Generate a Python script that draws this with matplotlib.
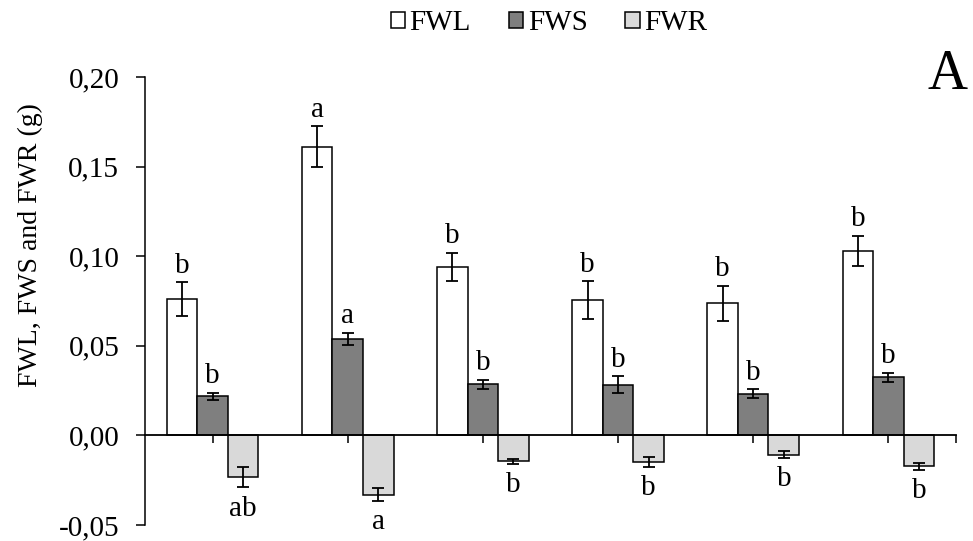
import numpy as np
import matplotlib
matplotlib.use("Agg")
import matplotlib.pyplot as plt
from matplotlib.ticker import FuncFormatter

plt.rcParams["font.family"] = ["Liberation Serif", "DejaVu Serif"]

series = ["FWL", "FWS", "FWR"]
fwl = [0.076, 0.161, 0.094, 0.0755, 0.0736, 0.103]
fwl_err = [0.0094, 0.0115, 0.0080, 0.0105, 0.0098, 0.0084]
fws = [0.0218, 0.054, 0.0285, 0.0283, 0.0233, 0.0324]
fws_err = [0.0020, 0.0034, 0.0025, 0.0047, 0.0024, 0.0026]
fwr = [-0.0233, -0.033, -0.0145, -0.0149, -0.0108, -0.0173]
fwr_err = [0.0057, 0.0037, 0.0015, 0.0028, 0.0019, 0.0019]
fwl_letters = ["b", "a", "b", "b", "b", "b"]
fws_letters = ["b", "a", "b", "b", "b", "b"]
fwr_letters = ["ab", "a", "b", "b", "b", "b"]

values = [fwl, fws, fwr]
errors = [fwl_err, fws_err, fwr_err]
letters = [fwl_letters, fws_letters, fwr_letters]
colors = ["white", "#7f7f7f", "#d9d9d9"]
fs = 21

fig = plt.figure(figsize=(9.73, 5.41), dpi=100)
ax = fig.add_axes([0.149, 0.0296, 0.8335, 0.8281])

x = np.arange(len(fwl))
w = 0.226
for i in range(3):
    pos = x + (i - 1) * w
    ax.bar(pos, values[i], w, color=colors[i], edgecolor="black",
           linewidth=1.1, label=series[i], zorder=2)
    ax.errorbar(pos, values[i], yerr=errors[i], fmt="none", ecolor="black",
                elinewidth=1.3, capsize=4.6, capthick=1.3, zorder=3)
    for xp, v, e, t in zip(pos, values[i], errors[i], letters[i]):
        if v >= 0:
            ax.annotate(t, (xp, v + e), xytext=(0, 7), textcoords="offset points",
                        ha="center", va="baseline", fontsize=fs)
        else:
            ax.annotate(t, (xp, v - e), xytext=(0, -6), textcoords="offset points",
                        ha="center", va="top", fontsize=fs)

ax.set_xlim(-0.5, len(fwl) - 0.5)
ax.set_ylim(-0.05, 0.20)
ax.set_yticks(np.arange(-0.05, 0.201, 0.05))
ax.yaxis.set_major_formatter(FuncFormatter(lambda v, p: f"{v:.2f}".replace(".", ",")))
ax.tick_params(axis="y", labelsize=fs, direction="out", length=6.5, width=1.1, pad=12)

ax.spines["top"].set_visible(False)
ax.spines["right"].set_visible(False)
ax.spines["bottom"].set_position(("data", 0))
ax.spines["bottom"].set_linewidth(1.3)
ax.spines["left"].set_linewidth(1.1)
ax.set_xticks(list(x) + [len(fwl) - 0.5])
ax.set_xticklabels([])
ax.tick_params(axis="x", direction="out", length=6, width=1.1)

ax.set_ylabel("FWL, FWS and FWR (g)", fontsize=20)
ax.yaxis.set_label_coords(-0.1258, 0.625)

handles, labels = ax.get_legend_handles_labels()
fig.legend(handles, labels, loc="center", bbox_to_anchor=(549 / 973, 0.957), ncol=3,
           frameon=False, fontsize=fs, handlelength=0.5, handleheight=0.5,
           handletextpad=0.15, columnspacing=1.3, borderpad=0)

fig.text(967 / 973, 1 - 89 / 541, "A", fontsize=40, ha="right", va="baseline")

fig.savefig("out.png", dpi=100)
